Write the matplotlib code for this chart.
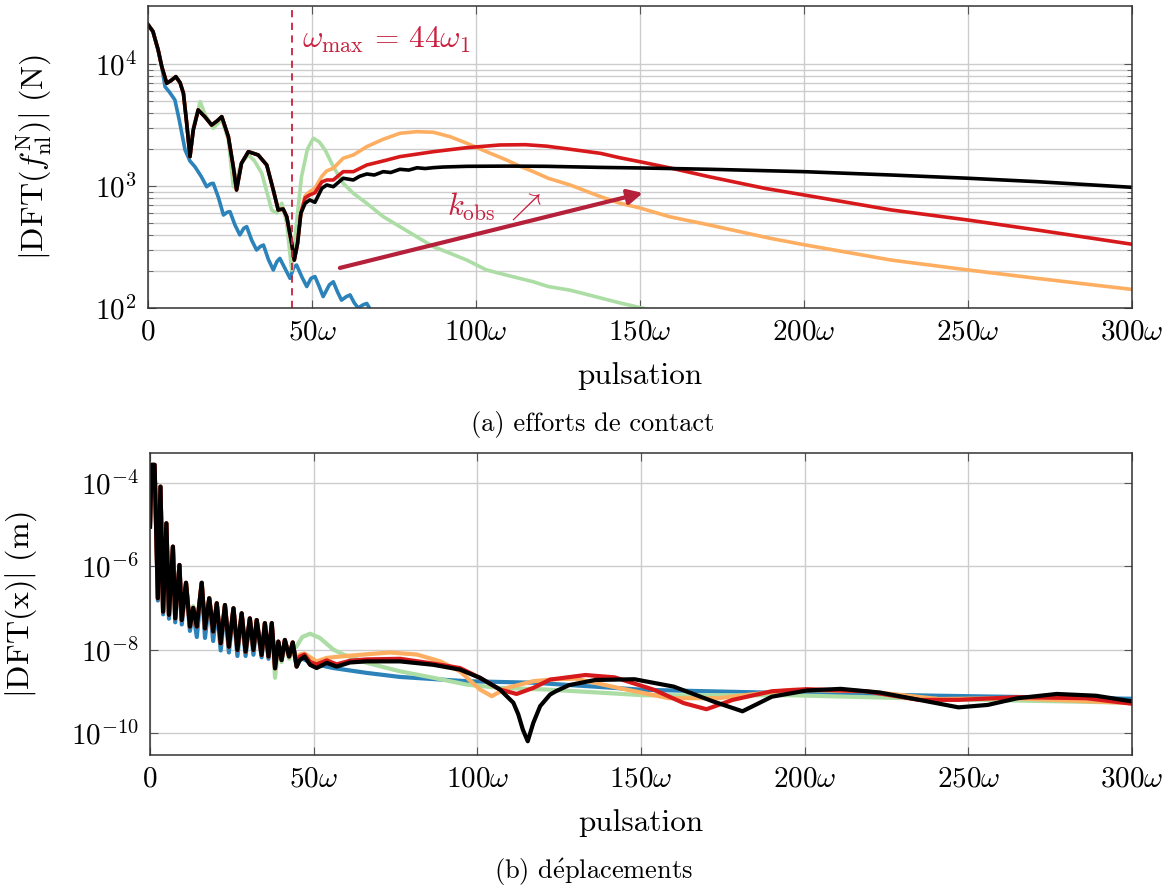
import numpy as np
import matplotlib
matplotlib.use("Agg")
import matplotlib.pyplot as plt
from matplotlib.ticker import FixedLocator, NullFormatter, LogFormatterMathtext

plt.rcParams['mathtext.fontset'] = 'cm'
plt.rcParams['font.family'] = ['cmr10', 'DejaVu Serif']
plt.rcParams['axes.formatter.use_mathtext'] = True

# colours of the 5 cases
c_blue = "#2b83ba"
c_green = "#abdda4"
c_orange = "#fdae61"
c_red = "#d7191c"
c_black = "#000000"

# ---------- (a) contact forces ----------
# common start (black / red / orange are on top of each other here)
fx_base = [0, 1.5, 3.1, 4.2, 5.7, 7.0, 8.5, 9.8, 10.8, 11.8, 12.8, 13.8, 15.3, 17.3, 19.4, 21.0,
           22.5, 24.5, 26.0, 27.0, 28.5, 30.6, 33.6, 36.2, 38.2, 39.7, 41.2, 42.3, 43.8, 44.6, 45.6, 46.6]
fy_base = [21000, 18500, 13000, 9500, 6950, 7300, 7870, 7000, 5750, 3265, 1740, 2877, 4200, 3700, 3160, 3400,
           3700, 2535, 1439, 927, 1535, 1910, 1795, 1486, 927, 636, 648, 560, 339, 247, 339, 597]

fx_black_tail = [47.9, 49.3, 50.9, 53.0, 54.5, 56.5, 59.5, 62.6, 64.5, 66.7, 69.0, 71.7, 74.0, 76.8, 79.5,
                 82.0, 84.5, 87.0, 90.0, 97.2, 110, 121.5, 138, 150, 171, 200, 226.6, 250, 271, 300]
fy_black_tail = [721, 768, 735, 957, 1019, 986, 1157, 1120, 1200, 1254, 1230, 1310, 1290, 1370, 1350,
                 1410, 1390, 1413, 1430, 1449, 1455, 1449, 1420, 1405, 1371, 1310, 1230, 1157, 1085, 975]

fx_red_tail = [47.9, 49.3, 50.9, 53.0, 54.5, 56.5, 59.5, 62.6, 66.7, 71.7, 76.8, 87, 97.2, 107.3, 115,
               121.5, 128.7, 138, 144, 150, 160, 171, 188, 200, 226.6, 250, 271, 300]
fy_red_tail = [800, 844, 880, 1080, 1120, 1120, 1310, 1310, 1486, 1603, 1740, 1910, 2060, 2168, 2180,
               2120, 2000, 1850, 1700, 1580, 1390, 1192, 957, 844, 636, 526, 436, 333]

fx_orange_tail = [47.9, 49.3, 50.9, 53.0, 54.5, 56.5, 59.5, 62.6, 66.7, 71.7, 76.8, 81.9, 87, 92.1, 97.2,
                  103.2, 109.3, 113.4, 117.5, 122, 128.7, 138, 144, 150, 159, 171, 189.6, 200, 226.6, 250, 271, 300]
fy_orange_tail = [830, 898, 957, 1200, 1330, 1396, 1687, 1795, 2100, 2415, 2703, 2786, 2755, 2535, 2239,
                  1910, 1633, 1450, 1310, 1157, 1019, 817, 721, 660, 560, 480, 373, 330, 247, 205, 175, 142]

fx_green = [0, 1.5, 3.1, 4.2, 5.7, 7.0, 8.5, 9.8, 10.8, 11.8, 12.8, 13.8, 15.9, 17.5, 19.9, 22.5, 24.5,
            26.0, 28.5, 30.6, 32.5, 34.7, 37.7, 39.2, 40.8, 42.3, 43.8, 45.3, 46.8, 48.6, 50.4, 52.2, 54,
            56.5, 59.5, 62.6, 66.7, 71.7, 76.8, 81.9, 87, 92.1, 97.2, 103.2, 109.3, 117.5, 122, 128.7, 143.9, 152]
fy_green = [21000, 18500, 13000, 9500, 6950, 7300, 7870, 7000, 5750, 3265, 1740, 3000, 4910, 3800, 2970, 3500, 2400,
            986, 1535, 1800, 1600, 1270, 636, 600, 721, 494, 205, 500, 1192, 2000, 2460, 2300, 1972,
            1439, 1052, 871, 721, 561, 464, 384, 318, 281, 247, 205, 186, 164, 150, 140, 110, 98]

fx_blue = [0, 1.5, 3.1, 4.2, 5.2, 6.5, 8.2, 9.5, 11.3, 12.8, 14.3, 16.2, 17.9, 19.0, 19.9, 21.5, 23.0, 24.2,
           25.0, 26.5, 28.0, 29.2, 30.1, 31.6, 33.1, 34.3, 35.2, 36.7, 38.2, 39.3, 40.2, 41.8, 43.3, 44.4,
           45.3, 46.9, 48.4, 49.7, 50.9, 52.2, 53.4, 55.3, 56.5, 57.8, 59.0, 60.5, 61.6, 62.9, 64.1, 65.5,
           66.7, 68.0]
fy_blue = [21000, 18500, 13000, 9500, 6510, 5900, 5070, 3500, 1972, 1600, 1439, 1200, 986, 1040, 1052, 800, 578, 610,
           616, 480, 397, 450, 464, 360, 299, 320, 328, 250, 205, 240, 255, 210, 175, 215,
           225, 180, 150, 175, 181, 150, 124, 155, 164, 135, 116, 124, 128, 110, 100, 106,
           109, 95]

# ---------- (b) displacements ----------
dx_base = [0, 0.5, 1.4, 2.4, 3.2, 4.0, 5.0, 5.8, 7.0, 7.7, 9.0, 9.7, 11.0, 12.2, 13.2, 14.3, 15.8, 16.8,
           18.1, 19.3, 20.4, 21.6, 22.9, 24.1, 25.5, 26.7, 28.0, 29.2, 30.5, 31.6, 32.6, 34.1, 35.1, 36.2,
           37.2, 38.2, 39.2, 40.2, 41.2, 42.5, 43.6, 44.8]
dy_base = [8.9e-6, 2.7e-4, 2.7e-4, 1.7e-7, 8.1e-5, 8.1e-8, 1.07e-5, 6.8e-8, 2.95e-6, 5.6e-8, 1.07e-6, 5.1e-8,
           4.0e-7, 3.55e-8, 1.0e-7, 3.55e-8, 4.0e-7, 3.2e-8, 1.7e-7, 2.7e-8, 1.29e-7, 1.41e-8, 1.17e-7, 1.17e-8,
           9.8e-8, 9.8e-9, 7.4e-8, 8.9e-9, 5.6e-8, 9.8e-9, 5.1e-8, 7.4e-9, 4.3e-8, 6.8e-9, 4.3e-8, 3.55e-9,
           1.55e-8, 5.6e-9, 1.7e-8, 6.8e-9, 1.48e-8, 3.9e-9]

dy_blue_low = [8.9e-6, 2.7e-4, 2.7e-4, 1.5e-7, 8.1e-5, 7e-8, 1.0e-5, 5.5e-8, 2.8e-6, 4.5e-8, 1.0e-6, 4e-8,
               3.5e-7, 2.8e-8, 8e-8, 2e-8, 3.5e-7, 1.9e-8, 1.5e-7, 1.6e-8, 1.1e-7, 9.5e-9, 1.0e-7, 8.5e-9,
               8.5e-8, 7e-9, 6.5e-8, 7e-9, 5e-8, 7.5e-9, 4.5e-8, 6.5e-9, 3.8e-8, 6e-9, 3.5e-8, 5e-9,
               1.3e-8, 5.5e-9, 1.4e-8, 6.5e-9, 1.2e-8, 6e-9]

dy_green_low = [8.9e-6, 2.7e-4, 2.7e-4, 1.7e-7, 8.1e-5, 8.1e-8, 1.07e-5, 6.8e-8, 2.95e-6, 5.6e-8, 1.07e-6, 5.1e-8,
                4.0e-7, 3.55e-8, 1.1e-7, 3.55e-8, 4.0e-7, 3.2e-8, 1.7e-7, 2.7e-8, 1.29e-7, 1.41e-8, 1.17e-7, 1.17e-8,
                9.8e-8, 9.8e-9, 7.4e-8, 8.9e-9, 5.6e-8, 9.8e-9, 5.1e-8, 7.4e-9, 4.3e-8, 6.8e-9, 3.5e-8, 2.1e-9,
                1.2e-8, 5.0e-9, 1.5e-8, 6.0e-9, 1.0e-8, 1.2e-8]

dx_black_tail = [45.8, 47.2, 48.9, 50.9, 54, 57, 61.1, 66.2, 76.4, 86.6, 94.7, 100.8, 106.9, 111, 112.5, 113.9,
                 115.4, 117.1, 119.2, 122.2, 124, 128, 136, 148, 160, 172, 181, 190, 200.6, 211, 223, 235,
                 247, 256, 265, 277, 289, 300]
dy_black_tail = [5.6e-9, 6.8e-9, 4.3e-9, 3.6e-9, 4.8e-9, 3.9e-9, 4.9e-9, 5.2e-9, 5.2e-9, 4.3e-9, 3.3e-9, 2.1e-9,
                 1.1e-9, 5.3e-10, 2.8e-10, 1.2e-10, 6.3e-11, 1.74e-10, 4.4e-10, 8.3e-10, 1.0e-9, 1.4e-9, 1.86e-9,
                 1.94e-9, 1.29e-9, 5.7e-10, 3.3e-10, 7.4e-10, 1.04e-9, 1.14e-9, 9.3e-10, 6.2e-10,
                 4.1e-10, 4.7e-10, 6.8e-10, 8.6e-10, 7.8e-10, 5.7e-10]

dx_red_tail = [45.8, 47.2, 48.9, 50.9, 54, 57, 61.1, 66.2, 76.4, 86.6, 94.7, 100.8, 106.9, 112, 117.1, 122.2,
               133, 142, 154, 163, 170, 178, 190, 200.6, 218.6, 235, 247, 265, 286, 300]
dy_red_tail = [6.8e-9, 7.6e-9, 5e-9, 4.4e-9, 5.5e-9, 4.4e-9, 5.4e-9, 5.8e-9, 6.0e-9, 4.6e-9, 3.6e-9, 2.1e-9,
               1.1e-9, 8.6e-10, 1.2e-9, 1.9e-9, 2.45e-9, 2.15e-9, 1.08e-9, 5.2e-10, 3.7e-10, 6.2e-10, 1e-9,
               1.12e-9, 1e-9, 6.2e-10, 6.2e-10, 7.2e-10, 6.8e-10, 5e-10]

dx_orange_tail = [45.8, 47.2, 50.9, 54, 58, 66.2, 73.3, 81.5, 88.7, 94.7, 100.8, 104.4, 109, 117.1, 124, 130,
                  143.5, 158.5, 173.6, 196, 218.6, 241, 263.6, 300]
dy_orange_tail = [7.6e-9, 8e-9, 5.2e-9, 6.3e-9, 6.8e-9, 7.7e-9, 8.5e-9, 7.6e-9, 5.2e-9, 3e-9, 1.1e-9, 7.6e-10,
                  1.2e-9, 1.74e-9, 1.95e-9, 2.0e-9, 1.18e-9, 6.8e-10, 6.8e-10, 1.08e-9, 1e-9, 6.5e-10, 6.8e-10, 5.2e-10]

dx_green_tail = [46.5, 48.9, 51.9, 56, 59.1, 66.2, 76.4, 86.6, 96.8, 106.9, 121, 151, 196, 241, 300]
dy_green_tail = [2.0e-8, 2.4e-8, 1.9e-8, 1e-8, 7.6e-9, 4.8e-9, 3.0e-9, 2.1e-9, 1.44e-9, 1.2e-9, 1.1e-9,
                 8e-10, 8e-10, 6.5e-10, 5.3e-10]

dx_blue_tail = [45.8, 50.9, 56, 66.2, 76.4, 96.8, 117.1, 151, 196, 241, 300]
dy_blue_tail = [6.3e-9, 4.4e-9, 3.6e-9, 2.75e-9, 2.2e-9, 1.74e-9, 1.6e-9, 1.08e-9, 9e-10, 7.8e-10, 6.6e-10]

xticks = [0, 50, 100, 150, 200, 250, 300]
xticklabels = [r'$0$', r'$50\omega$', r'$100\omega$', r'$150\omega$', r'$200\omega$', r'$250\omega$', r'$300\omega$']

omega_max = 44
arrow_start = (58.5, 213)
arrow_end = (150.9, 877)

fig = plt.figure(figsize=(11.72, 8.88), dpi=100)
ax1 = fig.add_axes([148 / 1172, 1 - 308 / 888, 984 / 1172, 302 / 888])
ax2 = fig.add_axes([150 / 1172, 1 - 755 / 888, 982 / 1172, 302 / 888])

# top
lw = 2.6
ax1.plot(fx_blue, fy_blue, color=c_blue, lw=lw)
ax1.plot(fx_green, fy_green, color=c_green, lw=lw)
ax1.plot(fx_base + fx_orange_tail, fy_base + fy_orange_tail, color=c_orange, lw=lw)
ax1.plot(fx_base + fx_red_tail, fy_base + fy_red_tail, color=c_red, lw=lw)
ax1.plot(fx_base + fx_black_tail, fy_base + fy_black_tail, color=c_black, lw=lw)

# bottom
lw2 = 3.0
ax2.plot(dx_base + dx_blue_tail, dy_blue_low + dy_blue_tail, color=c_blue, lw=lw2)
ax2.plot(dx_base + dx_green_tail, dy_green_low + dy_green_tail, color=c_green, lw=lw2)
ax2.plot(dx_base + dx_orange_tail, dy_base + dy_orange_tail, color=c_orange, lw=lw2)
ax2.plot(dx_base + dx_red_tail, dy_base + dy_red_tail, color=c_red, lw=lw2)
ax2.plot(dx_base + dx_black_tail, dy_base + dy_black_tail, color=c_black, lw=lw2)

for ax in (ax1, ax2):
    ax.set_yscale('log')
    ax.set_xlim(0, 300)
    ax.set_xticks(xticks)
    ax.set_xticklabels(xticklabels)
    ax.tick_params(which='both', direction='in', top=True, right=True, labelsize=21, pad=8)
    ax.tick_params(which='major', length=6, width=0.8, color='#555555')
    ax.tick_params(which='minor', length=3.5, width=0.6, color='#555555')
    ax.set_xlabel(r'pulsation', fontsize=22.5, labelpad=12)
    ax.grid(True, which='major', color='#cccccc', lw=1.0)
    ax.set_axisbelow(True)
    for s in ax.spines.values():
        s.set_linewidth(1.1)
        s.set_color('#333333')
    ax.yaxis.set_major_formatter(LogFormatterMathtext())

ax1.set_ylim(100, 29850)
ax1.yaxis.set_major_locator(FixedLocator([1e2, 1e3, 1e4]))
ax1.yaxis.set_minor_locator(FixedLocator([k * 1e2 for k in range(2, 10)] + [k * 1e3 for k in range(2, 10)]))
ax1.yaxis.set_minor_formatter(NullFormatter())
ax1.grid(True, which='minor', axis='y', color='#cccccc', lw=1.0)
ax1.set_ylabel(r'$|\mathrm{DFT}(f_{\mathrm{nl}}^{\mathrm{N}})|\ (\mathrm{N})$', fontsize=23)
ax1.yaxis.set_label_coords(-0.096, 0.5)

ax2.set_ylim(2.95e-11, 5.2e-4)
ax2.yaxis.set_major_locator(FixedLocator([1e-10, 1e-8, 1e-6, 1e-4]))
ax2.yaxis.set_minor_locator(FixedLocator([]))
ax2.set_ylabel(r'$|\mathrm{DFT(x)}|\ (\mathrm{m})$', fontsize=23)
ax2.yaxis.set_label_coords(-0.113, 0.5)

# annotations on (a)
ax1.axvline(omega_max, color='#c8203f', lw=1.3, dashes=(4, 3))
ax1.text(47, 15700, r'$\omega_{\max} \,=\, 44\omega_1$', color='#c8203f', fontsize=22.5, va='center', ha='left')
ax1.annotate('', xy=arrow_end, xytext=arrow_start,
             arrowprops=dict(arrowstyle='-|>', lw=3, color='#b5203a', mutation_scale=22, shrinkA=0, shrinkB=0))
ax1.text(91.2, 685, r'$k_{\mathrm{obs}}\ \nearrow$', color='#c8203f', fontsize=22, va='center', ha='left')

fig.text(593 / 1172, 1 - 424 / 888, '(a) efforts de contact', fontsize=19, ha='center', va='center')
fig.text(593 / 1172, 1 - 872 / 888, r'(b) d$\mathrm{\acute{e}}$placements', fontsize=19, ha='center', va='center')

plt.savefig("out.png", dpi=100)
